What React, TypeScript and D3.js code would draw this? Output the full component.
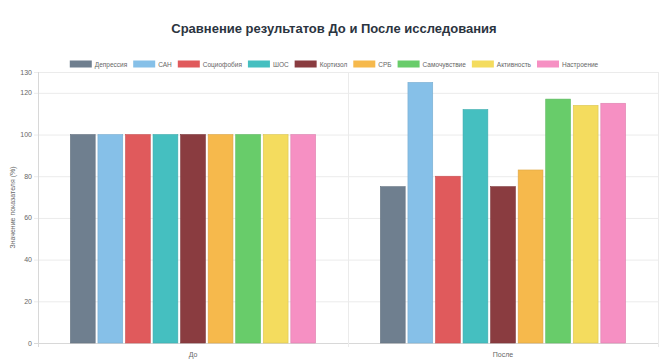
import React, { useRef, useEffect } from 'react';
import * as d3 from 'd3';

const categories = ['До', 'После'];
const seriesNames = ['Депрессия', 'САН', 'Социофобия', 'ШОС', 'Кортизол', 'СРБ', 'Самочувствие', 'Активность', 'Настроение'];
const beforeValues = [100, 100, 100, 100, 100, 100, 100, 100, 100];
const afterValues = [75, 125, 80, 112, 75, 83, 117, 114, 115];
const seriesColors = ['#6f7f8f', '#86c0e8', '#e05a5c', '#45bfc0', '#8a3c40', '#f6b94c', '#68cc6a', '#f4dc5e', '#f690c3'];
const yTicks = [0, 20, 40, 60, 80, 100, 120, 130];

const font = 'Liberation Sans, Arial, Helvetica, sans-serif';

const App = () => {
  const container = useRef<HTMLDivElement>(null);

  useEffect(() => {
    const width = 668;
    const height = 363;
    const left = 38, right = 658, top = 72, bottom = 343;

    const x = d3.scaleBand().domain(categories).range([left, right]).paddingInner(0).paddingOuter(0);
    const bw = x.bandwidth();
    const inner = d3.scaleBand().domain(seriesNames).range([bw * 0.1, bw * 0.9]).padding(0);
    const y = d3.scaleLinear().domain([0, 130]).range([bottom, top]);

    const svg = d3.create('svg')
      .attr('width', width)
      .attr('height', height)
      .style('display', 'block')
      .style('font-family', font);

    svg.append('rect').attr('width', width).attr('height', height).attr('fill', '#fff');

    // title
    svg.append('text')
      .attr('x', width / 2)
      .attr('y', 33)
      .attr('text-anchor', 'middle')
      .attr('font-size', 13)
      .attr('font-weight', 'bold')
      .attr('fill', '#2b3440')
      .text('Сравнение результатов До и После исследования');

    // grid
    const grid = svg.append('g');
    grid.selectAll('line.h')
      .data(yTicks)
      .join('line')
      .attr('x1', left - 4)
      .attr('x2', right)
      .attr('y1', d => y(d) + 0.5)
      .attr('y2', d => y(d) + 0.5)
      .attr('stroke', d => (d === 0 ? '#d8d8d8' : '#ebebeb'))
      .attr('stroke-width', 1);

    const vLines = [left, ...categories.map(c => (x(c) as number) + bw)];
    grid.selectAll('line.v')
      .data(vLines)
      .join('line')
      .attr('x1', d => d + 0.5)
      .attr('x2', d => d + 0.5)
      .attr('y1', top)
      .attr('y2', bottom + 4)
      .attr('stroke', (d, i) => (i === 0 ? '#d8d8d8' : '#ebebeb'))
      .attr('stroke-width', 1);

    // y tick labels
    svg.append('g')
      .selectAll('text')
      .data(yTicks)
      .join('text')
      .attr('x', left - 6)
      .attr('y', d => y(d) + 2.5)
      .attr('text-anchor', 'end')
      .attr('font-size', 7)
      .attr('fill', '#666')
      .text(d => d);

    // y axis title
    svg.append('text')
      .attr('transform', `translate(13,${(top + bottom) / 2}) rotate(-90)`)
      .attr('text-anchor', 'middle')
      .attr('dy', '0.35em')
      .attr('font-size', 7)
      .attr('fill', '#666')
      .text('Значение показателя (%)');

    // x labels
    svg.append('g')
      .selectAll('text')
      .data(categories)
      .join('text')
      .attr('x', d => (x(d) as number) + bw / 2)
      .attr('y', 357)
      .attr('text-anchor', 'middle')
      .attr('font-size', 7)
      .attr('fill', '#666')
      .text(d => d);

    // bars
    const valuesByCat = [beforeValues, afterValues];
    const barW = inner.bandwidth() * 0.9;
    categories.forEach((cat, ci) => {
      const g = svg.append('g').attr('transform', `translate(${x(cat)},0)`);
      g.selectAll('rect')
        .data(seriesNames.map((name, i) => ({ name, value: valuesByCat[ci][i], color: seriesColors[i] })))
        .join('rect')
        .attr('x', d => (inner(d.name) as number) + (inner.bandwidth() - barW) / 2)
        .attr('y', d => y(d.value))
        .attr('width', barW)
        .attr('height', d => y(0) - y(d.value))
        .attr('fill', d => d.color)
        .attr('stroke', d => d3.color(d.color)!.darker(0.3).toString())
        .attr('stroke-width', 0.6);
    });

    // legend
    const legend = svg.append('g');
    const boxW = 22, boxH = 7, gap = 3, spacing = 6;
    const items = legend.selectAll('g')
      .data(seriesNames)
      .join('g');
    items.append('rect')
      .attr('width', boxW)
      .attr('height', boxH)
      .attr('fill', (d, i) => seriesColors[i]);
    items.append('text')
      .attr('x', boxW + gap)
      .attr('y', boxH - 0.8)
      .attr('font-size', 6.5)
      .attr('fill', '#666')
      .text(d => d);

    container.current!.innerHTML = '';
    container.current!.appendChild(svg.node()!);

    const widths: number[] = [];
    items.each(function () {
      const t = (this as SVGGElement).querySelector('text') as SVGTextElement;
      widths.push(boxW + gap + t.getComputedTextLength());
    });
    const total = d3.sum(widths) + spacing * (widths.length - 1);
    let cx = width / 2 - total / 2;
    items.attr('transform', (d, i) => {
      const t = `translate(${cx},60.5)`;
      cx += widths[i] + spacing;
      return t;
    });
  }, []);

  return <div ref={container} style={{ position: 'absolute', left: 0, top: 0, width: 668, height: 363 }} />;
};

export default App;
